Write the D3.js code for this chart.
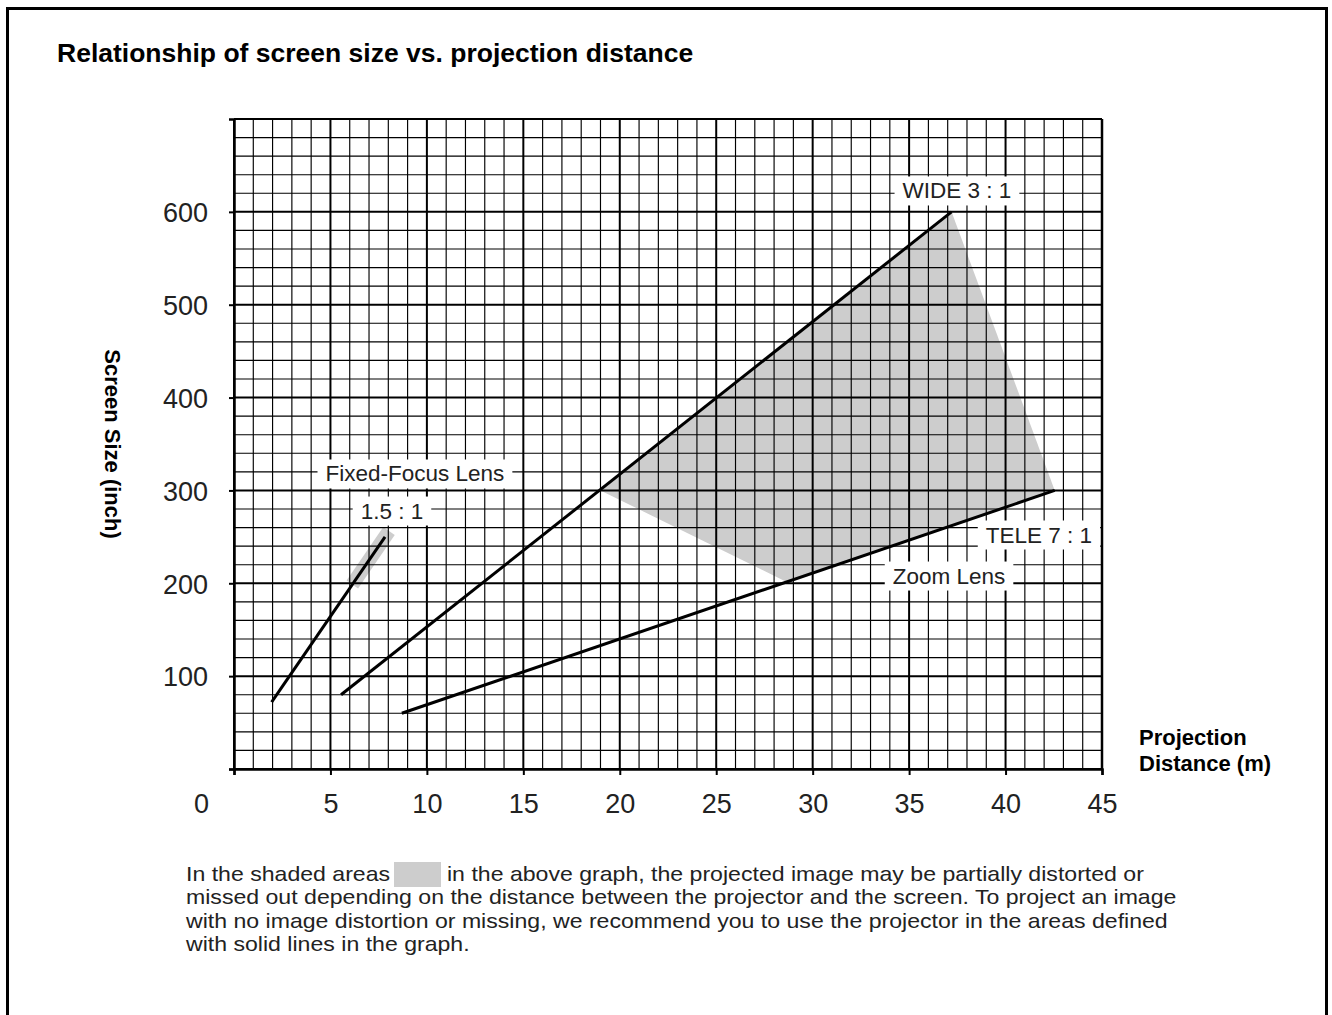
<!DOCTYPE html>
<html>
<head>
<meta charset="utf-8">
<script src="https://cdn.jsdelivr.net/npm/d3@7"></script>
<style>
  html, body { margin: 0; padding: 0; background: #fff; }
  svg { display: block; }
  text { font-family: "Liberation Sans", Arial, Helvetica, sans-serif; fill: #222; }
</style>
</head>
<body>
<svg id="chart" width="1332" height="1015"></svg>
<script>
// ---- data ----
const titleText = "Relationship of screen size vs. projection distance";
const xTickValues = [0, 5, 10, 15, 20, 25, 30, 35, 40, 45];
const yTickValues = [0, 100, 200, 300, 400, 500, 600];
const yTickLabels = ["", "100", "200", "300", "400", "500", "600"];
// lines: projection distance (m) vs screen size (inch)
const fixedFocusLine = [[1.95, 72], [7.83, 250]];
const wideLine = [[5.55, 80], [37.2, 600]];
const teleLine = [[8.7, 60], [42.55, 300]];
// shaded areas
const fixedFocusShade = [[6.34, 205], [7.83, 250]];
const zoomShade = [[19.0, 300], [37.2, 600], [42.55, 300], [28.6, 202]];
// annotation labels (data coords of label centre)
const labels = [
  { text: "WIDE 3 : 1", d: 37.48, s: 622.5 },
  { text: "Fixed-Focus Lens", d: 9.38, s: 317.7 },
  { text: "1.5 : 1", d: 8.19, s: 277.8 },
  { text: "TELE 7 : 1", d: 41.73, s: 252 },
  { text: "Zoom Lens", d: 37.07, s: 207.8 }
];
const footLines = [
  "missed out depending on the distance between the projector and the screen. To project an image",
  "with no image distortion or missing, we recommend you to use the projector in the areas defined",
  "with solid lines in the graph."
];
const footFirstA = "In the shaded areas";
const footFirstB = "in the above graph, the projected image may be partially distorted or";

// ---- drawing ----
const svg = d3.select("#chart");
const x = d3.scaleLinear().domain([0, 45]).range([234, 1102]);
const y = d3.scaleLinear().domain([0, 700]).range([769, 119]);

// frame
svg.append("rect").attr("x", 7.5).attr("y", 8.5).attr("width", 1319).attr("height", 1100)
  .attr("fill", "none").attr("stroke", "#000").attr("stroke-width", 3);

// title
svg.append("text").attr("x", 57).attr("y", 62).attr("font-size", 26.5).attr("font-weight", "bold")
  .style("fill", "#000").text(titleText);

// shaded areas (under grid)
svg.append("path").datum(zoomShade)
  .attr("d", d3.line().x(d => x(d[0])).y(d => y(d[1])).curve(d3.curveLinearClosed))
  .attr("fill", "#cdcdcd");
svg.append("path").datum(fixedFocusShade)
  .attr("d", d3.line().x(d => x(d[0])).y(d => y(d[1])))
  .attr("stroke", "#cdcdcd").attr("stroke-width", 14).attr("stroke-linecap", "square").attr("fill", "none");

// grid
const g = svg.append("g");
const minorX = d3.range(0, 46, 1), minorY = d3.range(0, 701, 20);
g.selectAll("line.vx").data(minorX).join("line")
  .attr("x1", d => x(d)).attr("x2", d => x(d)).attr("y1", y(0)).attr("y2", y(700))
  .attr("stroke", "#000")
  .attr("stroke-width", d => d % 5 === 0 ? 2 : 1.15);
g.selectAll("line.hy").data(minorY).join("line")
  .attr("x1", x(0)).attr("x2", x(45)).attr("y1", d => y(d)).attr("y2", d => y(d))
  .attr("stroke", "#000")
  .attr("stroke-width", d => d % 100 === 0 ? 2 : 1.15);

// axes
const xAxis = svg.append("g").attr("transform", `translate(0,${y(0)})`)
  .call(d3.axisBottom(x).tickValues(xTickValues).tickSize(6).tickFormat(d3.format("d")));
xAxis.select(".domain").attr("stroke-width", 2.5);
xAxis.selectAll(".tick line").attr("stroke-width", 2);
xAxis.selectAll(".tick text").attr("font-size", 27).attr("font-family", null)
  .attr("y", 44).attr("dy", 0).style("fill", "#222");
xAxis.selectAll(".tick").filter(d => d === 0).select("text").attr("x", -33);

const yAxis = svg.append("g").attr("transform", `translate(${x(0)},0)`)
  .call(d3.axisLeft(y).tickValues(yTickValues).tickSize(5).tickFormat((d, i) => yTickLabels[i]));
yAxis.select(".domain").attr("stroke-width", 2.5);
yAxis.selectAll(".tick line").attr("stroke-width", 2);
yAxis.selectAll(".tick text").attr("font-size", 27).attr("font-family", null)
  .attr("x", -26).attr("dy", "0.36em").style("fill", "#222");

// right border of plot
svg.append("line").attr("x1", x(45)).attr("x2", x(45)).attr("y1", y(700)).attr("y2", y(0))
  .attr("stroke", "#000").attr("stroke-width", 2.5);

// label boxes
const lab = svg.append("g");
labels.forEach(l => {
  const t = lab.append("text").attr("x", x(l.d)).attr("y", y(l.s)).attr("text-anchor", "middle")
    .attr("dominant-baseline", "central").attr("font-size", 22.5).text(l.text);
  const bb = t.node().getBBox();
  lab.insert("rect", "text").attr("x", bb.x - 8).attr("y", y(l.s) - 14.5)
    .attr("width", bb.width + 16).attr("height", 29).attr("fill", "#fff");
});

// lines
const lineGen = d3.line().x(d => x(d[0])).y(d => y(d[1]));
[fixedFocusLine, wideLine, teleLine].forEach(ln => {
  svg.append("path").datum(ln).attr("d", lineGen)
    .attr("stroke", "#000").attr("stroke-width", 3).attr("fill", "none");
});

// axis titles
svg.append("text").attr("x", 1139).attr("y", 745).attr("font-size", 22).attr("font-weight", "bold")
  .style("fill", "#000").text("Projection");
svg.append("text").attr("x", 1139).attr("y", 771).attr("font-size", 22).attr("font-weight", "bold")
  .style("fill", "#000").text("Distance (m)");
svg.append("text").attr("transform", "translate(112.5,444) rotate(90)")
  .attr("text-anchor", "middle").attr("dominant-baseline", "central")
  .attr("font-size", 22).attr("font-weight", "bold").style("fill", "#000").text("Screen Size (inch)");

// footnote (horizontally stretched smaller font so lines don't collide)
const sx = 1.155, fs = 20;
svg.append("rect").attr("x", 394).attr("y", 862).attr("width", 47).attr("height", 25).attr("fill", "#cdcdcd");
const foot = svg.append("g").attr("transform", `scale(${sx},1)`);
foot.append("text").attr("x", 186 / sx).attr("y", 881).attr("font-size", fs).text(footFirstA);
foot.append("text").attr("x", 447 / sx).attr("y", 881).attr("font-size", fs).text(footFirstB);
footLines.forEach((t, i) => {
  foot.append("text").attr("x", 186 / sx).attr("y", 904.3 + i * 23.3).attr("font-size", fs).text(t);
});
</script>
</body>
</html>
